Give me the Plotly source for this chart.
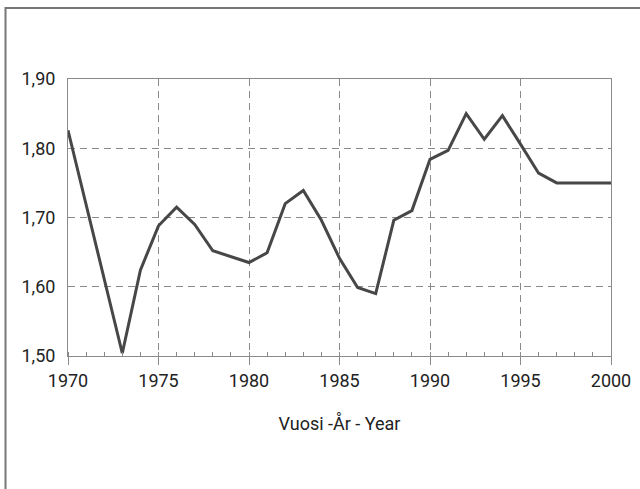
import plotly.graph_objects as go

years = list(range(1970, 2001))
fertility = [1.826, 1.72, 1.61, 1.504, 1.624, 1.688, 1.715, 1.690, 1.652, 1.643,
             1.635, 1.649, 1.720, 1.739, 1.696, 1.641, 1.599, 1.590, 1.696, 1.710,
             1.784, 1.797, 1.850, 1.813, 1.847, 1.806, 1.764, 1.750, 1.750, 1.750,
             1.750]

x_title = "Vuosi -År - Year"
font_family = "Roboto, Liberation Sans, sans-serif"

W, H = 640, 489
L, R, T, B = 68, 611, 79, 356
pw, ph = R - L, B - T

fig = go.Figure()
fig.add_trace(go.Scatter(
    x=years, y=fertility, mode="lines",
    line=dict(color="#474747", width=3),
    showlegend=False, hoverinfo="x+y",
))

grid_color = "#8a8a8a"
axis_color = "#8a8a8a"

fig.update_xaxes(
    range=[1970, 2000], dtick=5, tick0=1970, tickformat="d",
    showline=True, linecolor=axis_color, linewidth=1, mirror=True,
    ticks="outside", ticklen=8, tickcolor=axis_color, tickwidth=1,
    minor=dict(dtick=1, tick0=1970, ticks="inside", ticklen=4, tickcolor=axis_color, showgrid=False),
    showgrid=True, gridcolor=grid_color, griddash="7px,5px", gridwidth=1,
    zeroline=False, automargin=False,
    tickfont=dict(family=font_family, size=18, color="#222"),
    title=dict(text=x_title, font=dict(family=font_family, size=18, color="#222"), standoff=27),
)
fig.update_yaxes(
    range=[1.5, 1.9], dtick=0.1, tick0=1.5, tickformat=".2f",
    showline=True, linecolor=axis_color, linewidth=1, mirror=True,
    ticks="", ticklabelstandoff=8,
    showgrid=True, gridcolor=grid_color, griddash="7px,5px", gridwidth=1,
    zeroline=False, automargin=False,
    tickfont=dict(family=font_family, size=18, color="#222"),
)

# outer frame (left and top borders)
fx = (5.5 - L) / pw
fy = 1 + (T - 8) / ph
fb = -(H - B) / ph
fr = 1 + (W - R) / pw + 0.1
fig.add_shape(type="path", xref="paper", yref="paper",
              path=f"M {fx} {fb} L {fx} {fy} L {fr} {fy}",
              line=dict(color="#777", width=2))

fig.update_layout(
    width=W, height=H,
    margin=dict(l=L, r=W - R, t=T, b=H - B, autoexpand=False),
    paper_bgcolor="white", plot_bgcolor="white",
    separators=", ",
    font=dict(family=font_family),
)

fig.write_html("out.html", config={"displayModeBar": False},
               post_script="document.body.style.margin='0';document.body.style.overflow='hidden';")
